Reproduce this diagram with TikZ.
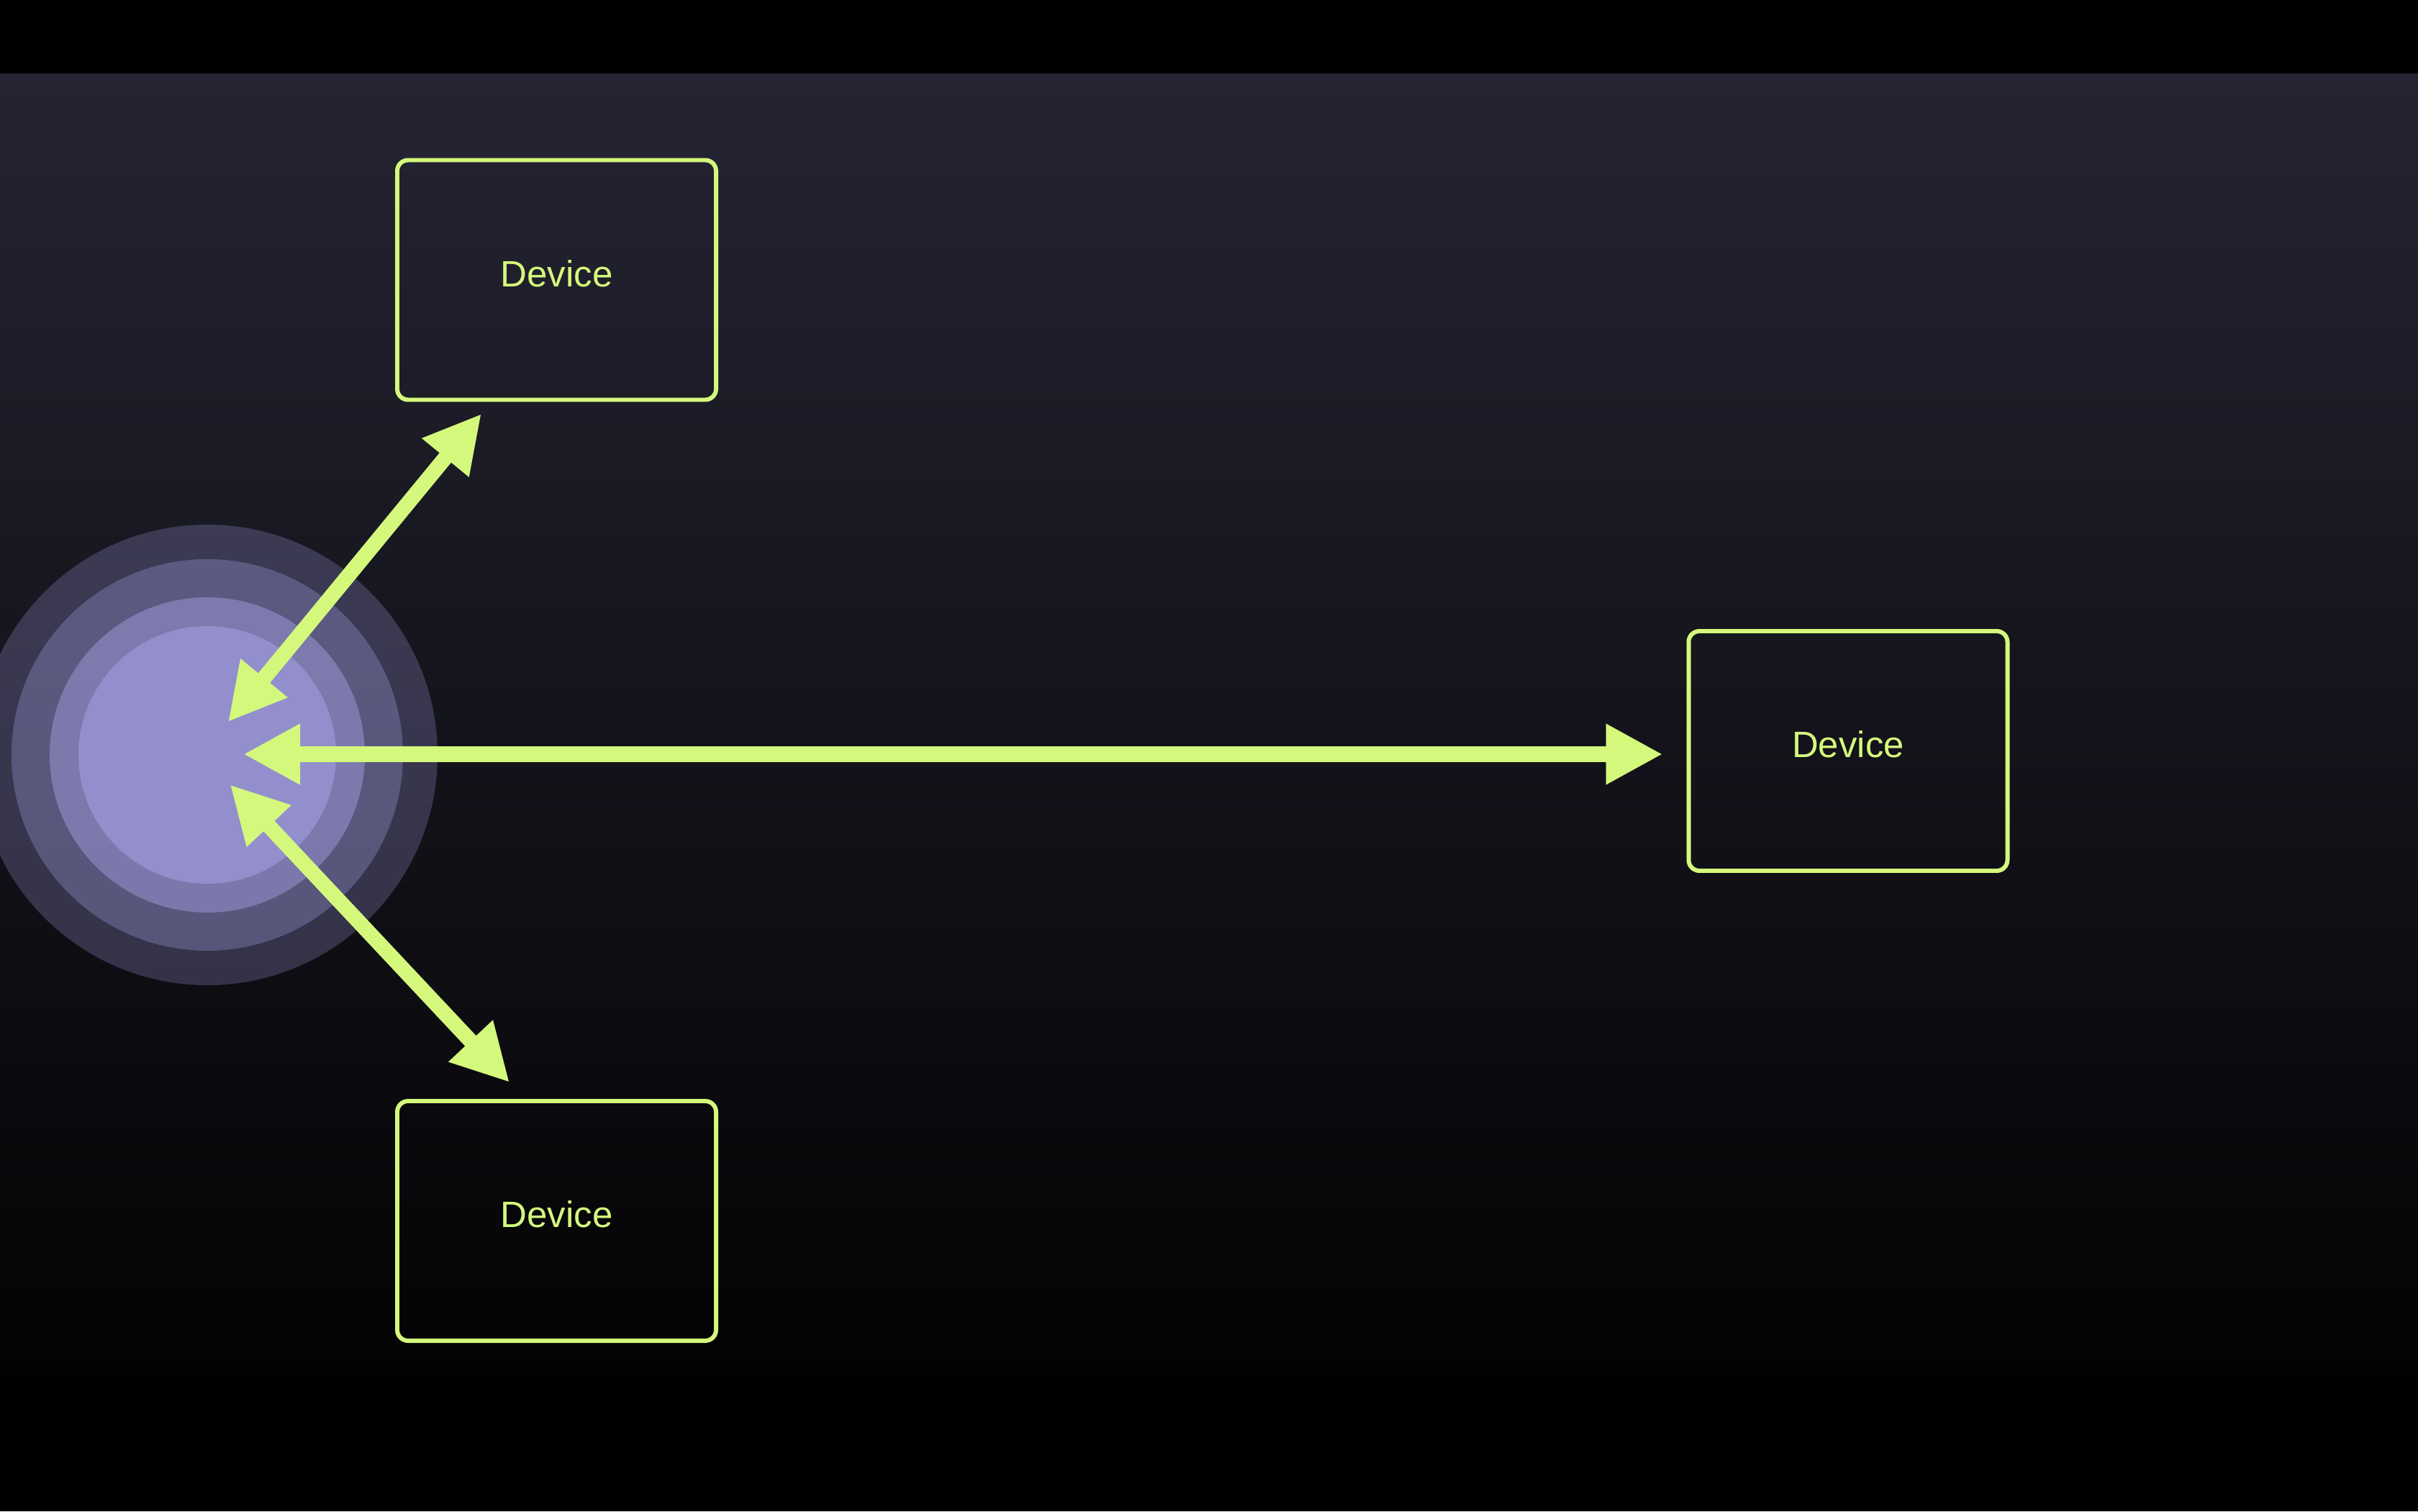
\documentclass[tikz,border=0pt]{standalone}
\usepackage{fontspec}
\setmainfont{Liberation Sans}
\usepackage{tikz}
\usetikzlibrary{arrows.meta}

\definecolor{lime}{RGB}{212,248,124}
\definecolor{halo}{RGB}{147,143,204}
\definecolor{bgtop}{RGB}{37,36,51}
\definecolor{bgbot}{RGB}{3,3,4}

\begin{document}
\begin{tikzpicture}[
		device/.style={rectangle, rounded corners=0.15cm, draw=lime, line width=1.7pt,
			minimum width=4.43cm, minimum height=3.33cm, text=lime, text depth=0.18cm,
			font=\fontsize{14.5pt}{17pt}\selectfont},
		link/.style={draw=lime, line width=6pt,
			{Triangle[length=7.9mm, width=7.9mm]}-{Triangle[length=7.9mm, width=7.9mm]}}
	]
  % background
  \useasboundingbox (0cm, 0cm) rectangle (33.6cm, 21cm);
  \fill[black] (0cm, 0cm) rectangle (33.6cm, 21cm);
  \shade[top color=bgtop, bottom color=bgbot] (0cm, 1.87cm) rectangle (33.6cm, 19.97cm);
  % halo round the hub
  \coordinate (core) at (2.88cm, 10.51cm);
  \foreach \r/\o in {3.20/0.29, 2.72/0.38, 2.19/0.61, 1.79/1}
    \fill[halo, fill opacity=\o] (core) circle (\r cm);
  \node (hub) [circle, minimum size=1.16cm, inner sep=0pt, outer sep=0pt] at (2.80cm, 10.52cm) {};
  \node (dev_t) [device] at (7.735cm, 17.11cm) {Device};
  \node (dev_r) [device] at (25.68cm, 10.565cm) {Device};
  \node (dev_b) [device] at (7.735cm, 4.035cm) {Device};
  \draw (hub) edge [link] ([xshift=-1.045cm, yshift=-0.165cm]dev_t.south);
  \draw (hub) edge [link] ([xshift=-0.33cm, yshift=-0.045cm]dev_r.west);
  \draw (hub) edge [link] ([xshift=-0.655cm, yshift=0.23cm]dev_b.north);
\end{tikzpicture}
\end{document}
